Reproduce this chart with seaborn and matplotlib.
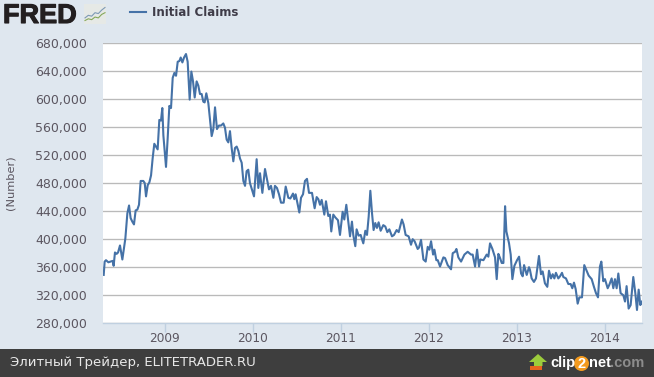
import matplotlib
matplotlib.use("Agg")
import matplotlib.pyplot as plt
import matplotlib.patheffects as pe
from matplotlib.patches import Rectangle, Polygon, Ellipse
import pandas as pd
import seaborn as sns

years_2008 = [2008.309,2008.320,2008.335,2008.362,2008.388,2008.411,2008.422,2008.437,2008.456,2008.472,2008.494,2008.521,2008.555,2008.578,2008.597,2008.615,2008.634,2008.653,2008.672,2008.691,2008.710,2008.729,2008.759,2008.775,2008.790,2008.809,2008.828,2008.847,2008.865,2008.884,2008.903,2008.922,2008.941,2008.960,2008.975,2008.987]
claims_2008 = [349,368,370,367,368,369,362,381,379,381,391,371,401,437,448,430,425,421,441,442,449,483,483,480,461,477,481,491,515,536,532,528,570,569,587,548]
years_2009 = [2009.002,2009.017,2009.036,2009.055,2009.074,2009.093,2009.112,2009.131,2009.150,2009.169,2009.184,2009.203,2009.222,2009.244,2009.263,2009.286,2009.305,2009.324,2009.343,2009.365,2009.384,2009.403,2009.422,2009.441,2009.456,2009.475,2009.498,2009.517,2009.536,2009.555,2009.574,2009.596,2009.619,2009.642,2009.668,2009.687,2009.706,2009.725,2009.744,2009.763,2009.782,2009.801,2009.820,2009.839,2009.858,2009.877,2009.896,2009.915,2009.933,2009.952,2009.971,2009.990]
claims_2009 = [525,503,544,590,587,630,637,633,653,654,659,652,659,664,653,599,639,625,602,625,619,607,607,596,595,608,594,571,547,557,588,557,562,562,565,559,542,538,554,530,511,530,532,526,515,509,483,476,497,499,480,472]
years_2010 = [2010.017,2010.047,2010.066,2010.085,2010.112,2010.142,2010.161,2010.187,2010.210,2010.237,2010.255,2010.278,2010.301,2010.324,2010.354,2010.377,2010.407,2010.430,2010.460,2010.475,2010.490,2010.513,2010.532,2010.551,2010.574,2010.596,2010.619,2010.642,2010.661,2010.676,2010.706,2010.729,2010.748,2010.767,2010.786,2010.816,2010.835,2010.861,2010.880,2010.895,2010.918,2010.941,2010.971,2010.994]
claims_2010 = [461,514,473,494,466,500,488,471,476,459,476,473,464,452,452,475,459,458,465,457,464,450,438,459,464,483,486,466,466,466,444,460,457,449,456,435,454,433,435,411,435,431,427,406]
years_2011 = [2011.024,2011.043,2011.066,2011.089,2011.108,2011.130,2011.145,2011.168,2011.183,2011.206,2011.229,2011.259,2011.282,2011.301,2011.320,2011.339,2011.358,2011.376,2011.395,2011.414,2011.433,2011.456,2011.486,2011.509,2011.532,2011.555,2011.585,2011.608,2011.638,2011.661,2011.698,2011.717,2011.740,2011.774,2011.801,2011.820,2011.842,2011.877,2011.892,2011.915,2011.942,2011.968,2011.991]
claims_2011 = [439,428,449,425,404,425,406,390,414,405,406,394,412,406,432,469,437,413,423,416,424,412,420,418,410,414,404,406,413,410,428,421,406,404,392,400,397,386,388,399,371,368,389]
years_2012 = [2012.010,2012.029,2012.052,2012.067,2012.089,2012.105,2012.131,2012.169,2012.188,2012.218,2012.256,2012.275,2012.302,2012.317,2012.339,2012.370,2012.408,2012.445,2012.483,2012.502,2012.529,2012.552,2012.574,2012.589,2012.624,2012.661,2012.680,2012.699,2012.726,2012.756,2012.775,2012.794,2012.813,2012.832,2012.851,2012.870,2012.885,2012.915,2012.934,2012.953,2012.976]
claims_2012 = [385,397,378,385,370,370,361,374,373,363,357,380,382,386,374,368,378,382,378,378,361,385,361,371,370,378,375,394,386,374,343,379,373,366,366,447,411,394,378,343,362]
years_2013 = [2013.006,2013.029,2013.052,2013.070,2013.086,2013.116,2013.142,2013.153,2013.172,2013.198,2013.221,2013.255,2013.278,2013.297,2013.323,2013.350,2013.369,2013.392,2013.411,2013.430,2013.448,2013.475,2013.494,2013.517,2013.532,2013.562,2013.589,2013.615,2013.634,2013.653,2013.672,2013.695,2013.714,2013.744,2013.770,2013.797,2013.820,2013.854,2013.880,2013.903,2013.926,2013.948,2013.964,2013.986]
claims_2013 = [370,375,351,347,363,349,360,356,344,339,344,376,350,354,337,332,355,344,350,344,352,344,347,352,346,344,336,336,330,338,329,308,317,317,363,355,348,343,332,323,317,361,368,340]
years_2014 = [2014.005,2014.036,2014.055,2014.081,2014.100,2014.119,2014.138,2014.157,2014.183,2014.214,2014.233,2014.251,2014.274,2014.297,2014.327,2014.350,2014.369,2014.388,2014.407,2014.425]
claims_2014 = [343,330,335,344,330,343,330,351,323,320,311,333,301,306,346,323,299,328,306,311]

year_ticks = [2009, 2010, 2011, 2012, 2013, 2014]
claim_ticks = [280000, 320000, 360000, 400000, 440000, 480000, 520000, 560000, 600000, 640000, 680000]
icon_x = [0, 1, 2, 3, 4, 5, 6]
icon_blue = [2, 3.5, 3, 5, 4.5, 6.5, 8]
icon_green = [0.5, 1.5, 1, 2.5, 2, 4, 5]

years = years_2008 + years_2009 + years_2010 + years_2011 + years_2012 + years_2013 + years_2014
claims = [c * 1000 for c in claims_2008 + claims_2009 + claims_2010 + claims_2011 + claims_2012 + claims_2013 + claims_2014]
df = pd.DataFrame({"year": years, "claims": claims})

W, H = 654, 377
BG = "#dfe7ef"
TXT = "#5b5660"
fig = plt.figure(figsize=(W / 100, H / 100), dpi=100, facecolor=BG)
ax = fig.add_axes([103 / W, 1 - 323.3 / H, 539 / W, 280.5 / H], facecolor="white")

sns.lineplot(data=df, x="year", y="claims", color="#4572a7", linewidth=1.5,
             ax=ax, label="Initial Claims", estimator=None, sort=False)

ax.set_xlim(2008.301, 2014.426)
ax.set_ylim(280000, 680000)
ax.set_xticks(year_ticks)
ax.set_xticklabels([str(y) for y in year_ticks], fontsize=8.7, color=TXT)
ax.set_yticks(claim_ticks)
ax.set_yticklabels([f"{v:,}" for v in claim_ticks], fontsize=9.0, color=TXT)
ax.tick_params(axis="y", length=0, pad=11.5)
ax.tick_params(axis="x", length=6.2, width=1, color="#c0d0e0", pad=0)
ax.grid(axis="y", color="#bababa", linewidth=0.95)
ax.grid(axis="x", visible=False)
ax.set_axisbelow(True)
for side in ("top", "left", "right"):
    ax.spines[side].set_visible(False)
ax.spines["bottom"].set_color("#c0d0e0")
ax.spines["bottom"].set_linewidth(1)
ax.set_xlabel("")
ax.set_ylabel("")

fig.text(11 / W, 1 - 183 / H, "(Number)", rotation=90, ha="center", va="center",
         fontsize=8.2, color=TXT)

leg = ax.legend(loc="center left", bbox_to_anchor=(130 / W, 1 - 12.5 / H),
                bbox_transform=fig.transFigure, frameon=False, handlelength=1.35,
                handletextpad=0.5, borderpad=0, borderaxespad=0,
                prop={"size": 8.5, "weight": "bold"}, labelcolor="#3f3c48")

# FRED wordmark and its small chart icon
fig.text(3 / W, 1 - 23 / H, "FRED", fontsize=19.5, fontweight="bold",
         family="Liberation Sans", color="#231f20", ha="left", va="baseline",
         path_effects=[pe.withStroke(linewidth=0.8, foreground="#231f20")])
icon = fig.add_axes([84 / W, 1 - 24 / H, 22 / W, 20 / H], facecolor="#e6e9e6")
icon.plot(icon_x, icon_blue, color="#7d99b5", lw=0.8)
icon.plot(icon_x, icon_green, color="#86a85a", lw=0.8)
icon.set_ylim(-1.5, 10)
icon.set_xticks([]); icon.set_yticks([])
for s in icon.spines.values():
    s.set_visible(False)

# footer band
fig.add_artist(Rectangle((0, 0), 1, 28 / H, transform=fig.transFigure,
                         facecolor="#3e3e3e", edgecolor="none"))
fig.text(10 / W, 1 - 362.5 / H, "Элитный Трейдер, ELITETRADER.RU", fontsize=9.55,
         color="#e8e8e8", ha="left", va="center")

# clip2net mark
px = lambda x, y: (x / W, 1 - y / H)
fig.add_artist(Polygon([px(538, 354), px(547, 362), px(542.5, 362), px(542.5, 366),
                        px(534, 366), px(534, 362), px(529, 362)],
                       transform=fig.transFigure, facecolor="#9ccc3c", edgecolor="none"))
fig.add_artist(Rectangle(px(530, 370), 12 / W, 4 / H, transform=fig.transFigure,
                         facecolor="#e8641e", edgecolor="none"))
fig.add_artist(Ellipse(px(581.5, 363.5), 15 / W, 15 / H, transform=fig.transFigure,
                       facecolor="#f39a1e", edgecolor="none"))
LOGO = dict(fontsize=10.5, fontweight="bold", family="Liberation Sans", va="center")
fig.text(550 / W, 1 - 363 / H, "clip", color="white", ha="left", **LOGO)
fig.text(581.5 / W, 1 - 363.5 / H, "2", color="white", ha="center", **LOGO)
fig.text(589.5 / W, 1 - 363 / H, "net", color="white", ha="left", **LOGO)
fig.text(610 / W, 1 - 363 / H, ".com", color="#8c8c8c", ha="left", **LOGO)

fig.savefig("out.png", dpi=100, facecolor=BG)
